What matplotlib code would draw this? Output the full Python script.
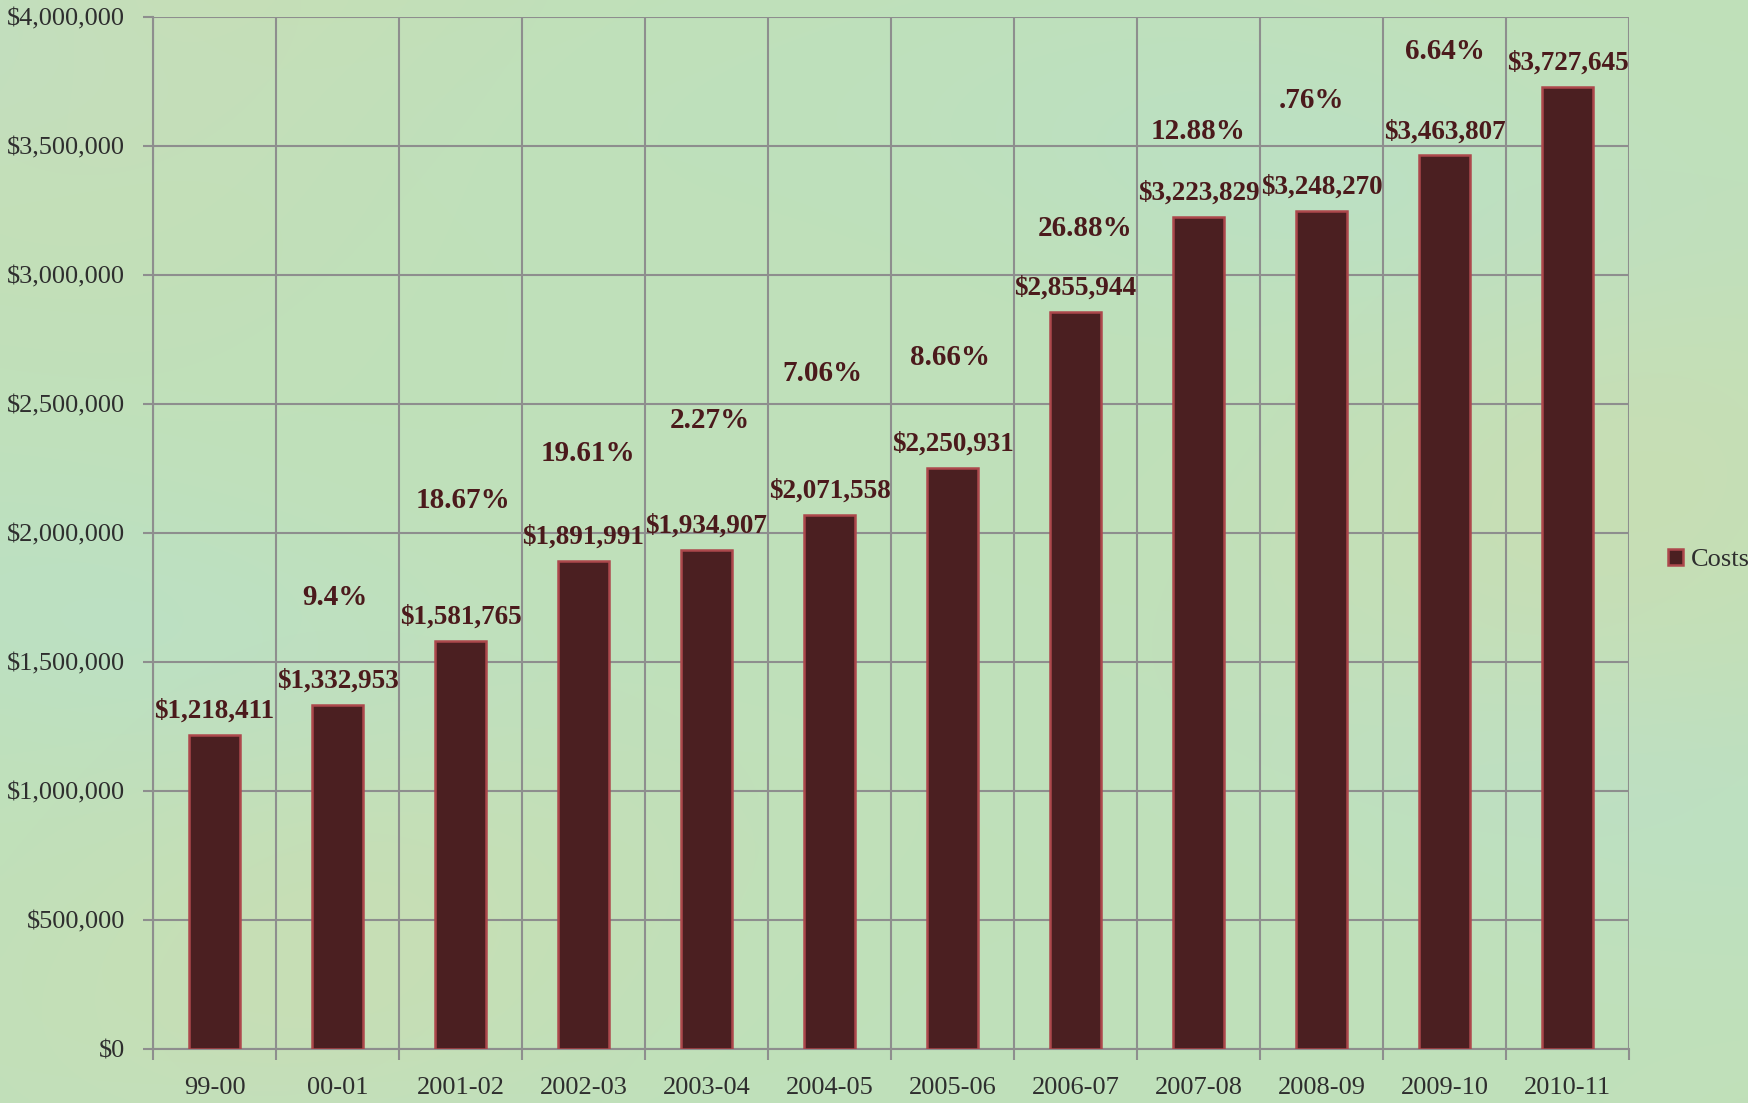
import numpy as np
import matplotlib
matplotlib.use("Agg")
import matplotlib.pyplot as plt
from matplotlib.ticker import FuncFormatter, MultipleLocator, FixedLocator

# ---- data ----
categories = ["99-00", "00-01", "2001-02", "2002-03", "2003-04", "2004-05",
              "2005-06", "2006-07", "2007-08", "2008-09", "2009-10", "2010-11"]
costs = [1218411, 1332953, 1581765, 1891991, 1934907, 2071558,
         2250931, 2855944, 3223829, 3248270, 3463807, 3727645]
pct_labels = ["", "9.4%", "18.67%", "19.61%", "2.27%", "7.06%",
              "8.66%", "26.88%", "12.88%", ".76%", "6.64%", ""]
# layout: heights at which the growth labels sit (data units) and small x shifts
pct_label_y = [None, 1750000, 2125000, 2310000, 2435000, 2620000,
               2680000, 3180000, 3555000, 3675000, 3865000, None]
pct_label_dx = [0, -0.02, 0.02, 0.04, 0.03, -0.06, -0.02, 0.08, 0.0, -0.08, 0.0, 0]

plt.rcParams['font.family'] = ['Liberation Serif', 'DejaVu Serif']

W, H = 1749, 1103
fig = plt.figure(figsize=(W / 100, H / 100), dpi=100)

# background (soft green texture-like gradient)
bg = fig.add_axes([0, 0, 1, 1], zorder=-10)
yy, xx = np.mgrid[0:1:300j, 0:1:480j]
base = np.array([0.75, 0.88, 0.73])
yellow = np.array([0.84, 0.86, 0.66])
blue = np.array([0.71, 0.88, 0.83])
wy = (0.5 + 0.5 * np.sin(6 * xx + 3 * yy + 1.0) * np.cos(4 * yy - 2 * xx)) ** 3
wb = (0.5 + 0.5 * np.sin(5 * xx - 7 * yy + 2.0) * np.cos(3 * xx + 5 * yy)) ** 3
img = base[None, None, :] * (1 - 0.35 * wy[..., None] - 0.35 * wb[..., None]) \
    + yellow[None, None, :] * 0.35 * wy[..., None] + blue[None, None, :] * 0.35 * wb[..., None]
img = np.clip(img, 0, 1)
bg.imshow(img, aspect='auto', extent=[0, 1, 0, 1], interpolation='bicubic')
bg.set_axis_off()

ax = fig.add_axes([153 / W, 54 / H, (1629 - 153) / W, (1049 - 17) / H])
ax.patch.set_alpha(0)

x = np.arange(len(categories))
bar_color = "#4b1f21"
edge_color = "#ad484c"
bars = ax.bar(x, costs, width=0.42, color=bar_color, edgecolor=edge_color,
              linewidth=1.8, label="Costs", zorder=3)

ax.set_xlim(-0.5, len(categories) - 0.5)
ax.set_ylim(0, 4000000)

grid_c = "#8e8e8e"
ax.yaxis.set_major_locator(MultipleLocator(500000))
ax.yaxis.set_major_formatter(FuncFormatter(lambda v, p: f"${int(v):,}"))
ax.set_xticks(x)
ax.set_xticklabels(categories)
ax.xaxis.set_minor_locator(FixedLocator(np.arange(-0.5, len(categories), 1.0)))
ax.tick_params(axis='x', which='major', length=0, pad=20, labelsize=19, labelcolor="#2e2e2e")
ax.tick_params(axis='x', which='minor', length=8, width=1.5, color=grid_c, direction='out')
ax.tick_params(axis='y', which='major', length=7, width=1.5, color=grid_c, pad=13,
               labelsize=19, labelcolor="#2e2e2e")

ax.grid(True, axis='y', which='major', color=grid_c, linewidth=1.5, zorder=1)
ax.grid(True, axis='x', which='minor', color=grid_c, linewidth=1.5, zorder=1)
ax.grid(False, axis='x', which='major')
for side in ['left', 'bottom']:
    ax.spines[side].set_color(grid_c)
    ax.spines[side].set_linewidth(1.5)
for side in ['top', 'right']:
    ax.spines[side].set_visible(False)
ax.set_axisbelow(True)

label_c = "#4b1a1c"
for xi, v in zip(x, costs):
    ax.annotate(f"${v:,}", (xi, v), xytext=(0, 8), textcoords='offset points',
                ha='center', va='bottom', fontsize=19.5, fontweight='bold', color=label_c)
for xi, t, py, dx in zip(x, pct_labels, pct_label_y, pct_label_dx):
    if t:
        ax.text(xi + dx, py, t, ha='center', va='center', fontsize=21,
                fontweight='bold', color=label_c)

leg = fig.legend(handles=[bars], labels=["Costs"], loc='center left',
                 bbox_to_anchor=(1657 / W, 1 - 560 / H), frameon=False,
                 fontsize=19, handlelength=0.6, handleheight=0.6, handletextpad=0.3,
                 borderaxespad=0)
for t in leg.get_texts():
    t.set_color("#2e2e2e")

fig.savefig("out.png", dpi=100)
